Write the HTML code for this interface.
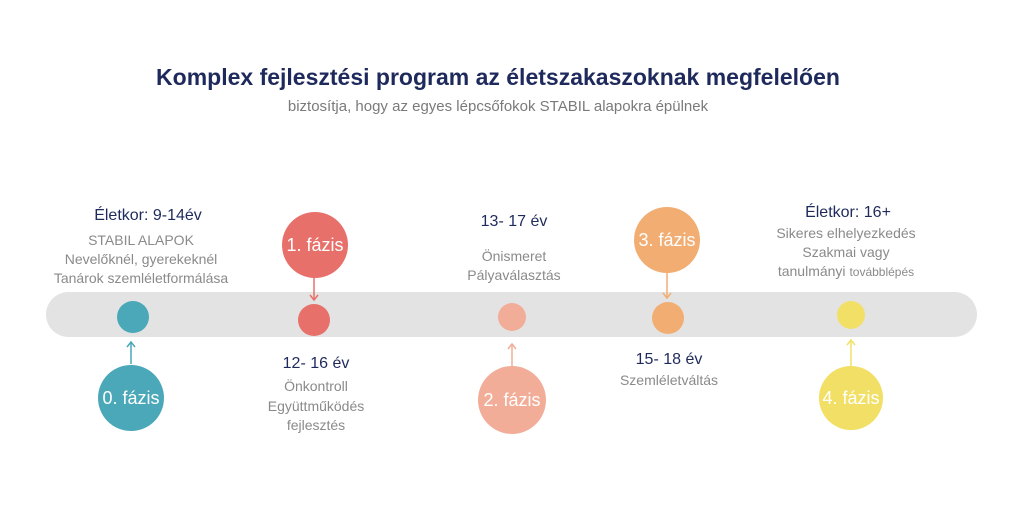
<!DOCTYPE html>
<html><head><meta charset="utf-8"><style>
body{margin:0;width:1024px;height:512px;background:#fff;overflow:hidden;font-family:"Liberation Sans",sans-serif}
</style></head><body>
<svg width="1024" height="512" xmlns="http://www.w3.org/2000/svg" font-family="Liberation Sans, DejaVu Sans, sans-serif">
<text x="498" y="85" text-anchor="middle" font-size="23" font-weight="bold" fill="#1f2a5c">Komplex fejlesztési program az életszakaszoknak megfelelően</text>
<text x="498" y="111" text-anchor="middle" font-size="15" fill="#7a7a7a">biztosítja, hogy az egyes lépcsőfokok STABIL alapokra épülnek</text>
<rect x="46" y="292" width="931" height="45" rx="22.5" fill="#e3e3e3"/>
<g stroke-width="1.5" fill="none">
<line x1="314" y1="277" x2="314" y2="299" stroke="#e8706a"/><path d="M310 295 L314 300 L318 295" stroke="#e8706a"/>
<line x1="131" y1="364" x2="131" y2="343" stroke="#4ba8b8"/><path d="M127 347 L131 342 L135 347" stroke="#4ba8b8"/>
<line x1="512" y1="366" x2="512" y2="345" stroke="#f2ad98"/><path d="M508 349 L512 344 L516 349" stroke="#f2ad98"/>
<line x1="667" y1="273" x2="667" y2="297" stroke="#f2ae72"/><path d="M663 293 L667 298 L671 293" stroke="#f2ae72"/>
<line x1="851" y1="366" x2="851" y2="341" stroke="#f2e066"/><path d="M847 345 L851 340 L855 345" stroke="#f2e066"/>
</g>
<circle cx="133" cy="317" r="16" fill="#4ba8b8"/>
<circle cx="314" cy="320" r="16" fill="#e8706a"/>
<circle cx="512" cy="317" r="14" fill="#f2ad98"/>
<circle cx="668" cy="318" r="16" fill="#f2ae72"/>
<circle cx="851" cy="315" r="14" fill="#f2e066"/>
<g font-size="18" fill="#fff" text-anchor="middle">
<circle cx="315" cy="245" r="33" fill="#e8706a"/><text x="315" y="251">1. fázis</text>
<circle cx="131" cy="398" r="33" fill="#4ba8b8"/><text x="131" y="404">0. fázis</text>
<circle cx="512" cy="400" r="34" fill="#f2ad98"/><text x="512" y="406">2. fázis</text>
<circle cx="667" cy="240" r="33" fill="#f2ae72"/><text x="667" y="246">3. fázis</text>
<circle cx="851" cy="398" r="32" fill="#f2e066"/><text x="851" y="404">4. fázis</text>
</g>
<g text-anchor="middle" font-size="16" fill="#1f2a5c">
<text x="148" y="220">Életkor: 9-14év</text>
<text x="316" y="368">12- 16 év</text>
<text x="514" y="226">13- 17 év</text>
<text x="669" y="364">15- 18 év</text>
<text x="848" y="217">Életkor: 16+</text>
</g>
<g text-anchor="middle" font-size="14" fill="#8a8a8a">
<text x="141" y="245">STABIL ALAPOK</text>
<text x="141" y="264">Nevelőknél, gyerekeknél</text>
<text x="141" y="283">Tanárok szemléletformálása</text>
<text x="316" y="391">Önkontroll</text>
<text x="316" y="411">Együttműködés</text>
<text x="316" y="430">fejlesztés</text>
<text x="514" y="261">Önismeret</text>
<text x="514" y="280">Pályaválasztás</text>
<text x="669" y="385">Szemléletváltás</text>
<text x="846" y="238">Sikeres elhelyezkedés</text>
<text x="846" y="257">Szakmai vagy</text>
<text x="846" y="276">tanulmányi <tspan font-size="12">továbblépés</tspan></text>
</g>
</svg>
</body></html>
